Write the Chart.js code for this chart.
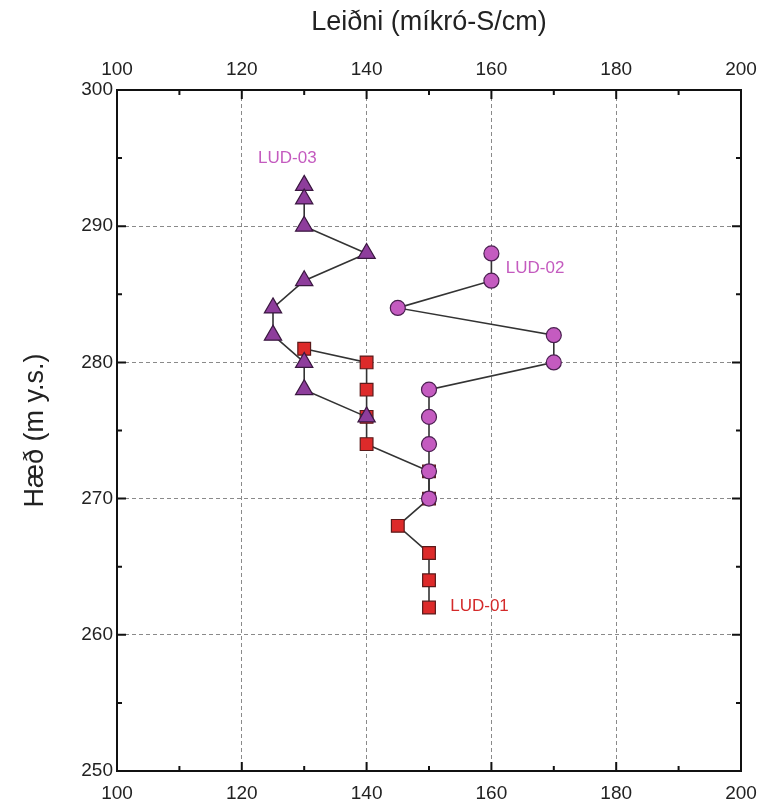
<!DOCTYPE html>
<html>
<head>
<meta charset="utf-8">
<script src="https://cdn.jsdelivr.net/npm/chart.js@4"></script>
<style>
  html, body { margin: 0; padding: 0; background: #fff; }
  canvas { display: block; }
</style>
</head>
<body>
<canvas id="chart" width="760" height="809"></canvas>
<script>
// gögn lesin af myndinni: leiðni (x) á móti hæð (y)
const lud01X = [130, 140, 140, 140, 140, 150, 150, 145, 150, 150, 150];
const lud01Y = [281, 280, 278, 276, 274, 272, 270, 268, 266, 264, 262];
const lud02X = [160, 160, 145, 170, 170, 150, 150, 150, 150, 150];
const lud02Y = [288, 286, 284, 282, 280, 278, 276, 274, 272, 270];
const lud03X = [130, 130, 130, 140, 130, 125, 125, 130, 130, 140];
const lud03Y = [293, 292, 290, 288, 286, 284, 282, 280, 278, 276];

const seriesNames = ['LUD-01', 'LUD-02', 'LUD-03'];
// hvar nöfnin standa (í gildum ása)
const nameX = [153.4, 162.3, 122.6];
const nameY = [262.1, 286.9, 295.0];

const xMin = 100, xMax = 200, xStep = 20;
const yMin = 250, yMax = 300, yStep = 10;

const FONT = "'Liberation Sans', Arial, sans-serif";
const PINK = '#c45bbf';
const RED = '#d42a2a';

function toPoints(xs, ys) {
    return xs.map((x, i) => ({ x: x, y: ys[i] }));
}

// innri hök á öllum fjórum ásunum
const innerTicks = {
    id: 'innerTicks',
    beforeDatasetsDraw(chart) {
        const { ctx, chartArea: a, scales } = chart;
        ctx.save();
        ctx.strokeStyle = '#111';
        ctx.lineWidth = 2;
        ctx.beginPath();
        for (let v = xMin; v <= xMax; v += 10) {
            const px = scales.x.getPixelForValue(v);
            const len = v % 20 === 0 ? 9 : 5;
            ctx.moveTo(px, a.bottom); ctx.lineTo(px, a.bottom - len);
            ctx.moveTo(px, a.top); ctx.lineTo(px, a.top + len);
        }
        for (let v = yMin; v <= yMax; v += 5) {
            const py = scales.y.getPixelForValue(v);
            const len = v % 10 === 0 ? 9 : 5;
            ctx.moveTo(a.left, py); ctx.lineTo(a.left + len, py);
            ctx.moveTo(a.right, py); ctx.lineTo(a.right - len, py);
        }
        ctx.stroke();
        ctx.restore();
    }
};

// nöfn borholanna
const seriesLabels = {
    id: 'seriesLabels',
    afterDatasetsDraw(chart) {
        const { ctx, scales } = chart;
        const colors = [RED, PINK, PINK];
        ctx.save();
        ctx.font = '17px ' + FONT;
        ctx.textAlign = 'left';
        ctx.textBaseline = 'middle';
        seriesNames.forEach((name, i) => {
            ctx.fillStyle = colors[i];
            ctx.fillText(name, scales.x.getPixelForValue(nameX[i]), scales.y.getPixelForValue(nameY[i]));
        });
        ctx.restore();
    }
};

const lineStyle = { showLine: true, borderColor: '#333', borderWidth: 1.6 };

// fastar stærðir ásanna svo teiknisvæðið lendi á réttum stað
function fixHeight(h) {
    return s => { s.height = h; s.paddingLeft = 0; s.paddingRight = 0; };
}

new Chart(document.getElementById('chart'), {
    type: 'scatter',
    data: {
        datasets: [
            Object.assign({
                label: 'LUD-03',
                data: toPoints(lud03X, lud03Y),
                pointStyle: 'triangle',
                pointRadius: 10,
                pointBackgroundColor: '#8e3d9c',
                pointBorderColor: '#3a1840',
                pointBorderWidth: 1.2
            }, lineStyle),
            Object.assign({
                label: 'LUD-02',
                data: toPoints(lud02X, lud02Y),
                pointStyle: 'circle',
                pointRadius: 7.5,
                pointBackgroundColor: '#c45bc0',
                pointBorderColor: '#4a2050',
                pointBorderWidth: 1.2
            }, lineStyle),
            Object.assign({
                label: 'LUD-01',
                data: toPoints(lud01X, lud01Y),
                pointStyle: 'rect',
                pointRadius: 9,
                pointBackgroundColor: '#dd2a2a',
                pointBorderColor: '#5a1a1a',
                pointBorderWidth: 1.2
            }, lineStyle)
        ]
    },
    options: {
        responsive: false,
        animation: false,
        devicePixelRatio: 1,
        layout: { padding: 0 },
        plugins: {
            legend: { display: false },
            tooltip: { enabled: false }
        },
        scales: {
            x: {
                type: 'linear',
                position: 'bottom',
                min: xMin, max: xMax,
                afterFit: fixHeight(38),
                ticks: { stepSize: xStep, padding: 11, color: '#222', font: { family: FONT, size: 19 } },
                grid: { color: '#8a8a8a', lineWidth: 1, drawTicks: false },
                border: { display: true, color: '#111', width: 2, dash: [4, 3] }
            },
            x2: {
                type: 'linear',
                position: 'top',
                min: xMin, max: xMax,
                afterFit: fixHeight(90),
                ticks: { stepSize: xStep, padding: 9, color: '#222', font: { family: FONT, size: 19 } },
                grid: { display: false, drawTicks: false },
                border: { display: true, color: '#111', width: 2 },
                title: {
                    display: true,
                    text: 'Leiðni (míkró-S/cm)',
                    color: '#222',
                    font: { family: FONT, size: 27 },
                    padding: { top: 6, bottom: 0 }
                }
            },
            y: {
                type: 'linear',
                position: 'left',
                min: yMin, max: yMax,
                afterFit: s => { s.width = 117; },
                ticks: { stepSize: yStep, padding: 4, color: '#222', font: { family: FONT, size: 19 } },
                grid: { color: '#8a8a8a', lineWidth: 1, drawTicks: false },
                border: { display: true, color: '#111', width: 2, dash: [4, 3] },
                title: {
                    display: true,
                    text: 'Hæð (m y.s.)',
                    color: '#222',
                    font: { family: FONT, size: 27 },
                    padding: { top: 19, bottom: 0 }
                }
            },
            y2: {
                type: 'linear',
                position: 'right',
                min: yMin, max: yMax,
                afterFit: s => { s.width = 19; },
                ticks: { display: false },
                grid: { display: false, drawTicks: false },
                border: { display: true, color: '#111', width: 2 }
            }
        }
    },
    plugins: [innerTicks, seriesLabels]
});
</script>
</body>
</html>
